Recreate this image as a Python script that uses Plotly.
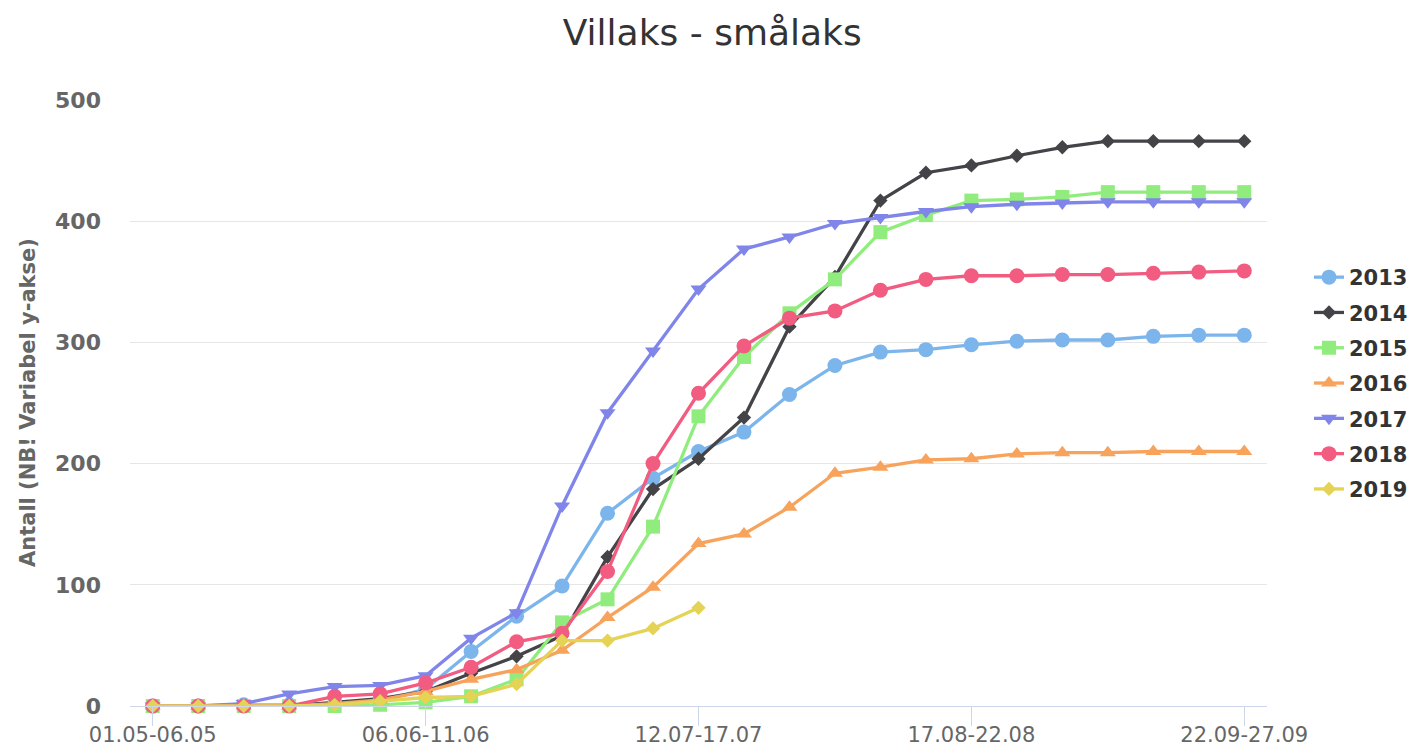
import plotly.graph_objects as go

categories = [
    "01.05-06.05", "07.05-12.05", "13.05-18.05", "19.05-24.05", "25.05-30.05",
    "31.05-05.06", "06.06-11.06", "12.06-17.06", "18.06-23.06", "24.06-29.06",
    "30.06-05.07", "06.07-11.07", "12.07-17.07", "18.07-23.07", "24.07-29.07",
    "30.07-04.08", "05.08-10.08", "11.08-16.08", "17.08-22.08", "23.08-28.08",
    "29.08-03.09", "04.09-09.09", "10.09-15.09", "16.09-21.09", "22.09-27.09",
]
tick_labels = ["01.05-06.05", "06.06-11.06", "12.07-17.07", "17.08-22.08", "22.09-27.09"]
y_ticks = [0, 100, 200, 300, 400, 500]

s2013 = [0, 0, 1, 1, 2, 4, 14, 45, 74, 99, 159, 188, 210, 226, 257, 281, 292, 294, 298, 301, 302, 302, 305, 306, 306]
s2014 = [0, 0, 0, 0, 3, 6, 12, 27, 41, 58, 123, 179, 204, 238, 313, 354, 417, 440, 446, 454, 461, 466, 466, 466, 466]
s2015 = [0, 0, 0, 0, 0, 1, 3, 8, 22, 69, 88, 148, 239, 288, 324, 352, 391, 405, 417, 418, 420, 424, 424, 424, 424]
s2016 = [0, 0, 0, 0, 2, 5, 12, 22, 30, 46, 73, 98, 134, 142, 164, 192, 197, 203, 204, 208, 209, 209, 210, 210, 210]
s2017 = [0, 0, 2, 10, 16, 17, 25, 56, 77, 165, 242, 293, 344, 377, 387, 398, 403, 408, 412, 414, 415, 416, 416, 416, 416]
s2018 = [0, 0, 0, 0, 8, 10, 19, 32, 53, 60, 111, 200, 258, 297, 320, 326, 343, 352, 355, 355, 356, 356, 357, 358, 359]
s2019 = [0, 0, 0, 0, 1, 4, 7, 8, 18, 54, 54, 64, 81]

series = [
    ("2013", s2013, "#7cb5ec", "circle", 15),
    ("2014", s2014, "#434348", "diamond", 11),
    ("2015", s2015, "#90ed7d", "square", 14),
    ("2016", s2016, "#f7a35c", "triangle-up", 14),
    ("2017", s2017, "#8085e9", "triangle-down", 14),
    ("2018", s2018, "#f15c80", "circle", 15),
    ("2019", s2019, "#e4d354", "diamond", 11),
]

FONT = "DejaVu Sans"

fig = go.Figure()
for name, vals, color, symbol, size in series:
    fig.add_trace(go.Scatter(
        x=categories[:len(vals)], y=vals, name=name, mode="lines+markers",
        line=dict(color=color, width=3.3),
        marker=dict(symbol=symbol, size=size, color=color, line=dict(width=0)),
        legendgroup=name, cliponaxis=False,
    ))

W, H = 1416, 748
L, R, T, B = 130, 149, 100, 42
pw, ph = W - L - R, H - T - B

fig.update_layout(
    width=W, height=H,
    margin=dict(l=L, r=R, t=T, b=B, autoexpand=False),
    paper_bgcolor="white", plot_bgcolor="white",
    font=dict(family=FONT, color="#666666"),
    title=dict(text="Villaks - smålaks", x=0.503, xref="container", xanchor="center",
               y=1 - 32 / H, yref="container", yanchor="middle",
               font=dict(family=FONT, size=36, color="#333333")),
    showlegend=True,
    legend=dict(x=(1309 - L) / pw, xanchor="left", y=(H - B - 383.5) / ph, yanchor="middle",
                font=dict(family=FONT, size=21, color="#333333", weight="bold"),
                tracegroupgap=5, bgcolor="rgba(0,0,0,0)"),
    xaxis=dict(type="category", categoryorder="array", categoryarray=categories,
               range=[-0.5, len(categories) - 0.5], automargin=False,
               tickmode="array", tickvals=tick_labels, ticktext=tick_labels,
               showline=True, linecolor="#ccd6eb", linewidth=1,
               ticks="outside", ticklen=19, tickcolor="#ccd6eb", tickwidth=1,
               ticklabelstandoff=-9,
               showgrid=False, zeroline=False,
               tickfont=dict(family=FONT, size=21, color="#666666")),
    yaxis=dict(range=[0, 500], tickmode="array", tickvals=y_ticks, automargin=False,
               showgrid=True, gridcolor="#e6e6e6", gridwidth=1, zeroline=False,
               showline=False, ticks="", ticklabelstandoff=28,
               tickfont=dict(family=FONT, size=22, color="#666666", weight="bold")),
    annotations=[dict(text="Antall (NB! Variabel y-akse)", textangle=-90,
                      x=(28 - L) / pw, xref="paper", xanchor="center",
                      y=0.5, yref="paper", yanchor="middle", showarrow=False,
                      font=dict(family=FONT, size=21, color="#666666", weight="bold"))],
)

fig.write_html("out.html", config={"displayModeBar": False},
               post_script="document.body.style.margin='0';document.body.style.overflow='hidden';")
